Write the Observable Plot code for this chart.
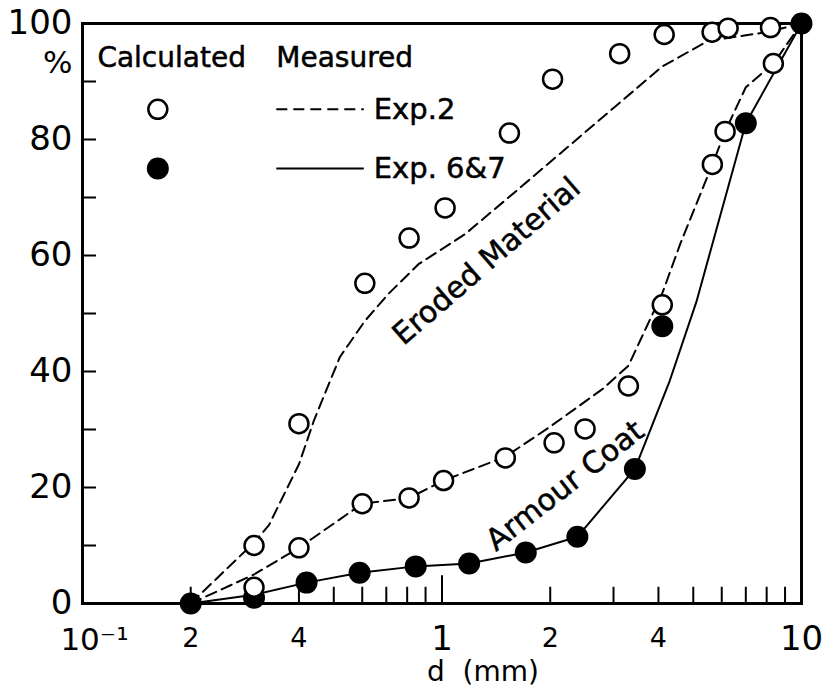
<!DOCTYPE html>
<html>
<head>
<meta charset="utf-8">
<script src="https://cdn.jsdelivr.net/npm/d3@7"></script>
<script src="https://cdn.jsdelivr.net/npm/@observablehq/plot@0.6"></script>
<style>
  html, body { margin: 0; padding: 0; background: #fff; }
  svg { display: block; }
</style>
</head>
<body>
<div id="chart"></div>
<script>
// ---- data: [d (mm), percent] ----
const erodedCalcExp2 = [[0.2,0],[0.3,10.5],[0.33,13.5],[0.4,24],[0.44,31.5],[0.52,42.5],[0.61,48.7],[0.71,53.4],[0.86,58.5],[1.16,63.7],[1.6,71],[4.1,92.6],[5.5,97],[8,98.5],[10,100]];
const armourCalcExp2 = [[0.2,0],[0.3,5],[0.4,9.6],[0.6,17.2],[0.81,18.2],[1.01,21.2],[1.5,25.3],[2,30.5],[2.8,37],[3.3,41],[4.1,53.5],[4.6,62],[5.65,75.7],[6.13,81.4],[7,89],[8.35,93.1],[10,100]];
const armourCalcExp67 = [[0.2,0],[0.3,1.5],[0.42,3.6],[0.59,5.3],[0.845,6.4],[1.19,6.9],[1.71,8.8],[2.38,11.5],[3.44,23.2],[4.3,38.4],[5.1,52],[7,82.8],[10,100]];

const erodedMeasExp2 = [[0.3,10],[0.4,31],[0.61,55.2],[0.81,63],[1.02,68.2],[1.54,81.1],[2.03,90.4],[3.12,94.8],[4.15,98.1],[5.64,98.5],[6.25,99.2],[8.2,99.3]];
const armourMeasExp2 = [[0.3,2.8],[0.4,9.6],[0.6,17.2],[0.81,18.2],[1.01,21.2],[1.5,25.1],[2.05,27.7],[2.5,30.1],[3.3,37.5],[4.1,51.5],[5.65,75.7],[6.13,81.4],[8.35,93.1]];
const armourMeasExp67 = [[0.2,0],[0.3,1],[0.42,3.6],[0.59,5.3],[0.845,6.4],[1.19,6.9],[1.71,8.8],[2.38,11.5],[3.44,23.2],[4.1,47.8],[7.0,82.8],[10,100]];

// ---- ticks & labels ----
const yLabelTicks = [0, 20, 40, 60, 80, 100];
const yMinorTicks = [10, 20, 30, 40, 50, 60, 70, 80, 90];
const xSmallLabelTicks = [0.2, 0.4, 0.6, 0.8, 2, 4, 6, 8];
const xBigLabelTicks = [1, 10];
const xMinorTicks = [0.2, 0.3, 0.4, 0.5, 0.6, 0.7, 0.8, 0.9, 2, 3, 4, 5, 6, 7, 8, 9];
const xDecadeTicks = [1];

// ---- legend & annotations (data coordinates) ----
const legendHeader = [{x: 0.110, y: 94, text: "Calculated"}, {x: 0.346, y: 94, text: "Measured"}];
const legendDots = [{x: 0.162, y: 85.2, filled: false}, {x: 0.162, y: 75, filled: true}];
const legendLines = [{x1: 0.346, x2: 0.606, y: 85.2, dashed: true}, {x1: 0.346, x2: 0.606, y: 75, dashed: false}];
const legendTexts = [{x: 0.646, y: 85.2, text: "Exp.2"}, {x: 0.646, y: 75, text: "Exp. 6&7"}];
const annotations = [
  {x: 1.33, y: 59.0, text: "Eroded Material", rotate: -41},
  {x: 2.2, y: 20.3, text: "Armour Coat", rotate: -38}
];

const P = d => ({x: d[0], y: d[1]});
const dash = "11,6";
const font = "DejaVu Sans";
const heavy = {fill: "black", stroke: "black", strokeWidth: 0.5};

const chart = Plot.plot({
  width: 826,
  height: 696,
  marginLeft: 82,
  marginRight: 25,
  marginTop: 23,
  marginBottom: 93,
  x: {type: "log", domain: [0.1, 10]},
  y: {domain: [0, 100]},
  style: {fontFamily: font, background: "white", color: "black", overflow: "visible"},
  marks: [
    // axes labels
    Plot.axisY(yLabelTicks, {tickSize: 0, tickPadding: 10, fontSize: 34, label: null}),
    Plot.axisX(xSmallLabelTicks, {tickSize: 0, tickPadding: 24, fontSize: 27, label: null,
      tickFormat: d => String(d < 1 ? Math.round(d * 10) : d)}),
    Plot.axisX(xBigLabelTicks, {tickSize: 0, tickPadding: 22, fontSize: 34, label: null, tickFormat: d => String(d)}),
    Plot.text(["10⁻¹"], {x: 0.1, y: 0, dx: 12, dy: 37, fontSize: 31, textAnchor: "middle"}),
    Plot.text(["%"], {x: 0.1, y: 93.1, dx: -10, textAnchor: "end", fontSize: 31}),
    Plot.text(["d  (mm)"], {frameAnchor: "bottom", dx: 41, dy: 77, fontSize: 28}),
    // inward ticks
    Plot.ruleX(xMinorTicks, {x: d => d, y1: 0, y2: 2.8, strokeWidth: 2}),
    Plot.ruleX(xDecadeTicks, {x: d => d, y1: 0, y2: 4.8, strokeWidth: 2}),
    Plot.ruleY(yMinorTicks, {y: d => d, x1: 0.1, x2: 0.1 * Math.pow(10, 14 / 358), strokeWidth: 2}),
    Plot.frame({strokeWidth: 3}),
    // calculated curves
    Plot.line(erodedCalcExp2.map(P), {x: "x", y: "y", strokeWidth: 2, strokeDasharray: dash}),
    Plot.line(armourCalcExp2.map(P), {x: "x", y: "y", strokeWidth: 2, strokeDasharray: dash}),
    Plot.line(armourCalcExp67.map(P), {x: "x", y: "y", strokeWidth: 2}),
    // measured points
    Plot.dot(armourMeasExp67.map(P), {x: "x", y: "y", r: 11, fill: "black", stroke: "none"}),
    Plot.dot(erodedMeasExp2.map(P), {x: "x", y: "y", r: 9.5, fill: "white", stroke: "black", strokeWidth: 2.5}),
    Plot.dot(armourMeasExp2.map(P), {x: "x", y: "y", r: 9.5, fill: "white", stroke: "black", strokeWidth: 2.5}),
    // annotations
    Plot.text(annotations, {x: "x", y: "y", text: "text", rotate: "rotate", fontSize: 30, ...heavy}),
    // legend
    Plot.text(legendHeader, {x: "x", y: "y", text: "text", textAnchor: "start", fontSize: 28, ...heavy}),
    Plot.dot(legendDots.filter(d => !d.filled), {x: "x", y: "y", r: 9.5, fill: "white", stroke: "black", strokeWidth: 2.5}),
    Plot.dot(legendDots.filter(d => d.filled), {x: "x", y: "y", r: 11, fill: "black", stroke: "none"}),
    Plot.link(legendLines.filter(d => d.dashed), {x1: "x1", x2: "x2", y1: "y", y2: "y", strokeWidth: 2, strokeDasharray: dash}),
    Plot.link(legendLines.filter(d => !d.dashed), {x1: "x1", x2: "x2", y1: "y", y2: "y", strokeWidth: 2}),
    Plot.text(legendTexts, {x: "x", y: "y", text: "text", textAnchor: "start", fontSize: 29, ...heavy})
  ]
});

document.getElementById("chart").appendChild(chart);
</script>
</body>
</html>
